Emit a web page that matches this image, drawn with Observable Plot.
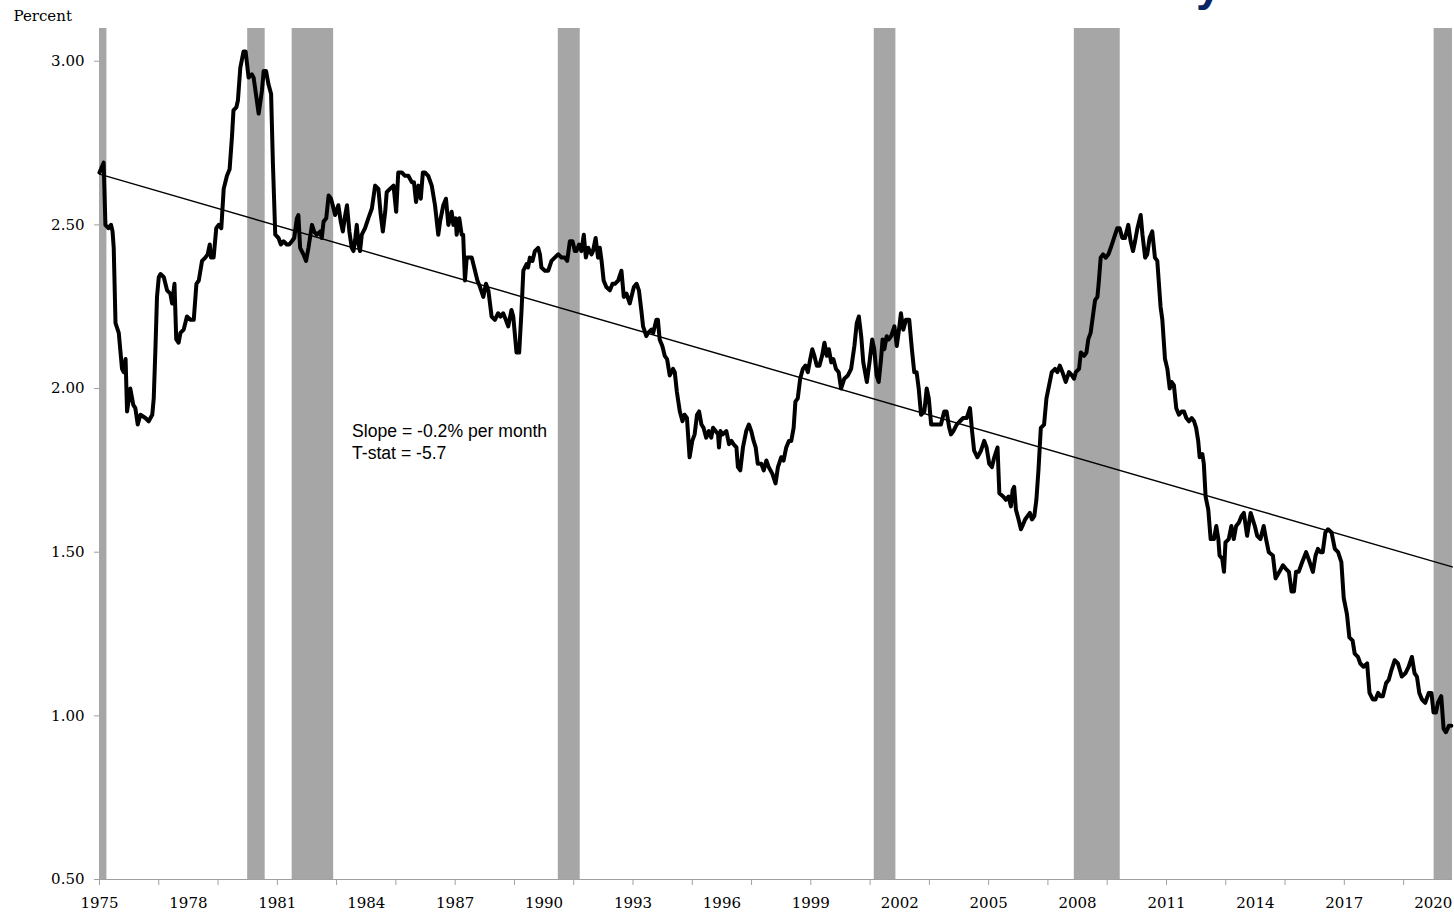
<!DOCTYPE html>
<html>
<head>
<meta charset="utf-8">
<script src="https://cdn.jsdelivr.net/npm/d3@7"></script>
<script src="https://cdn.jsdelivr.net/npm/@observablehq/plot@0.6"></script>
<style>
  html, body { margin: 0; padding: 0; background: #fff; overflow: hidden; }
  #wrap { position: relative; width: 1454px; height: 914px; }
  #title { position: absolute; left: 1196px; top: -39px; font: bold 46px/46px "Liberation Sans", Arial, sans-serif; color: #0a2466; white-space: nowrap; }
  #chart svg { display: block; }
</style>
</head>
<body>
<div id="wrap">
  <div id="chart"></div>
  <div id="title">y</div>
</div>
<script>
// Monthly series (decimal year, percent)
const rate = [
[1975.00,2.66],[1975.14,2.69],[1975.20,2.50],[1975.30,2.49],[1975.39,2.50],[1975.44,2.48],[1975.48,2.43],[1975.54,2.20],[1975.65,2.17],[1975.76,2.06],[1975.82,2.05],[1975.88,2.09],[1975.93,1.93],
[1976.04,2.00],[1976.14,1.95],[1976.21,1.94],[1976.29,1.89],[1976.38,1.92],[1976.55,1.91],[1976.66,1.90],[1976.78,1.92],[1976.83,1.97],[1976.89,2.13],[1976.94,2.28],
[1977.00,2.34],[1977.06,2.35],[1977.17,2.34],[1977.28,2.30],[1977.39,2.29],[1977.45,2.26],[1977.53,2.32],[1977.59,2.15],[1977.67,2.14],[1977.73,2.17],[1977.84,2.18],[1977.95,2.22],
[1978.07,2.21],[1978.18,2.21],[1978.27,2.32],[1978.35,2.33],[1978.46,2.39],[1978.57,2.40],[1978.65,2.41],[1978.72,2.44],[1978.76,2.40],[1978.85,2.40],[1978.94,2.49],
[1979.02,2.50],[1979.11,2.49],[1979.19,2.61],[1979.30,2.65],[1979.39,2.67],[1979.47,2.77],[1979.52,2.85],[1979.62,2.86],[1979.67,2.88],[1979.75,2.98],[1979.86,3.03],[1979.93,3.03],
[1980.03,2.95],[1980.14,2.96],[1980.20,2.95],[1980.37,2.84],[1980.48,2.91],[1980.54,2.97],[1980.62,2.97],[1980.70,2.93],[1980.79,2.90],[1980.85,2.69],[1980.93,2.47],
[1981.04,2.46],[1981.12,2.44],[1981.21,2.45],[1981.32,2.44],[1981.40,2.44],[1981.49,2.45],[1981.57,2.46],[1981.66,2.52],[1981.71,2.53],[1981.77,2.43],[1981.88,2.41],[1981.97,2.39],
[1982.05,2.43],[1982.17,2.50],[1982.24,2.48],[1982.33,2.47],[1982.45,2.48],[1982.50,2.46],[1982.56,2.51],[1982.65,2.52],[1982.73,2.59],[1982.81,2.58],[1982.87,2.56],[1982.95,2.53],
[1983.06,2.56],[1983.14,2.51],[1983.21,2.48],[1983.29,2.53],[1983.35,2.56],[1983.43,2.48],[1983.51,2.43],[1983.57,2.42],[1983.63,2.46],[1983.68,2.50],[1983.74,2.44],[1983.79,2.42],[1983.85,2.47],[1983.96,2.49],
[1984.07,2.52],[1984.19,2.55],[1984.30,2.62],[1984.41,2.61],[1984.49,2.53],[1984.56,2.48],[1984.64,2.54],[1984.69,2.60],[1984.80,2.61],[1984.92,2.62],
[1985.01,2.54],[1985.08,2.66],[1985.20,2.66],[1985.31,2.65],[1985.42,2.65],[1985.54,2.63],[1985.61,2.63],[1985.68,2.57],[1985.76,2.62],[1985.84,2.58],[1985.91,2.66],[1985.98,2.66],
[1986.09,2.65],[1986.21,2.62],[1986.32,2.56],[1986.43,2.47],[1986.49,2.51],[1986.60,2.56],[1986.69,2.58],[1986.77,2.50],[1986.83,2.52],[1986.88,2.54],[1986.94,2.50],
[1987.02,2.52],[1987.05,2.47],[1987.14,2.52],[1987.22,2.47],[1987.27,2.47],[1987.33,2.33],[1987.39,2.40],[1987.56,2.40],[1987.67,2.36],[1987.75,2.33],[1987.84,2.31],[1987.95,2.28],
[1988.04,2.32],[1988.12,2.30],[1988.23,2.22],[1988.34,2.21],[1988.45,2.23],[1988.53,2.22],[1988.62,2.23],[1988.71,2.21],[1988.79,2.19],[1988.90,2.24],[1988.96,2.22],
[1989.07,2.11],[1989.16,2.11],[1989.24,2.24],[1989.30,2.36],[1989.41,2.38],[1989.46,2.37],[1989.52,2.40],[1989.61,2.39],[1989.69,2.42],[1989.80,2.43],[1989.86,2.41],[1989.91,2.37],
[1990.03,2.36],[1990.14,2.36],[1990.25,2.39],[1990.36,2.40],[1990.48,2.41],[1990.59,2.40],[1990.70,2.40],[1990.78,2.39],[1990.87,2.45],[1990.96,2.45],
[1991.04,2.42],[1991.09,2.42],[1991.18,2.44],[1991.26,2.42],[1991.34,2.47],[1991.41,2.40],[1991.49,2.43],[1991.60,2.41],[1991.65,2.42],[1991.74,2.46],[1991.82,2.40],[1991.88,2.43],[1991.94,2.39],
[1992.01,2.33],[1992.10,2.31],[1992.22,2.30],[1992.31,2.32],[1992.39,2.32],[1992.50,2.33],[1992.61,2.36],[1992.69,2.28],[1992.78,2.29],[1992.89,2.26],
[1993.03,2.31],[1993.12,2.32],[1993.20,2.30],[1993.28,2.24],[1993.34,2.19],[1993.45,2.16],[1993.51,2.17],[1993.62,2.18],[1993.68,2.17],[1993.79,2.21],[1993.84,2.21],[1993.90,2.15],[1993.99,2.13],
[1994.07,2.10],[1994.15,2.09],[1994.24,2.04],[1994.35,2.06],[1994.41,2.05],[1994.48,1.99],[1994.58,1.93],[1994.67,1.90],[1994.74,1.92],[1994.82,1.91],[1994.91,1.79],
[1995.00,1.84],[1995.08,1.86],[1995.16,1.92],[1995.23,1.93],[1995.31,1.89],[1995.38,1.88],[1995.47,1.85],[1995.56,1.87],[1995.64,1.85],[1995.70,1.88],[1995.79,1.87],[1995.87,1.86],[1995.90,1.82],[1995.95,1.87],
[1996.03,1.86],[1996.15,1.87],[1996.24,1.83],[1996.32,1.84],[1996.39,1.83],[1996.49,1.82],[1996.54,1.76],[1996.62,1.75],[1996.71,1.82],[1996.82,1.87],[1996.91,1.89],[1996.99,1.87],
[1997.07,1.84],[1997.14,1.82],[1997.21,1.77],[1997.33,1.77],[1997.41,1.75],[1997.50,1.78],[1997.58,1.76],[1997.70,1.74],[1997.81,1.71],[1997.89,1.76],
[1998.00,1.79],[1998.08,1.78],[1998.17,1.82],[1998.26,1.84],[1998.34,1.84],[1998.42,1.88],[1998.48,1.96],[1998.56,1.97],[1998.64,2.03],[1998.73,2.06],[1998.82,2.07],[1998.90,2.05],[1998.98,2.09],
[1999.05,2.12],[1999.12,2.10],[1999.20,2.07],[1999.29,2.07],[1999.38,2.10],[1999.46,2.14],[1999.54,2.10],[1999.61,2.12],[1999.69,2.08],[1999.76,2.09],[1999.85,2.06],[1999.94,2.05],
[2000.02,2.00],[2000.13,2.03],[2000.25,2.04],[2000.36,2.06],[2000.47,2.13],[2000.55,2.20],[2000.62,2.22],[2000.70,2.16],[2000.77,2.08],[2000.89,2.02],[2000.98,2.08],
[2001.07,2.15],[2001.14,2.12],[2001.22,2.04],[2001.29,2.02],[2001.37,2.09],[2001.42,2.15],[2001.48,2.12],[2001.56,2.16],[2001.63,2.15],[2001.71,2.16],[2001.82,2.19],[2001.90,2.13],[2001.96,2.17],
[2002.04,2.23],[2002.12,2.18],[2002.21,2.21],[2002.32,2.21],[2002.41,2.12],[2002.49,2.05],[2002.57,2.05],[2002.64,2.00],[2002.72,1.92],[2002.83,1.93],[2002.91,2.00],[2002.98,1.97],
[2003.06,1.89],[2003.23,1.89],[2003.39,1.89],[2003.50,1.93],[2003.58,1.93],[2003.67,1.88],[2003.73,1.86],[2003.81,1.87],[2003.92,1.89],
[2004.03,1.90],[2004.14,1.91],[2004.26,1.91],[2004.37,1.94],[2004.44,1.87],[2004.51,1.81],[2004.62,1.79],[2004.74,1.81],[2004.85,1.84],[2004.93,1.82],
[2005.02,1.77],[2005.11,1.76],[2005.19,1.79],[2005.30,1.82],[2005.36,1.68],[2005.49,1.67],[2005.58,1.66],[2005.67,1.67],[2005.75,1.64],[2005.81,1.69],[2005.86,1.70],[2005.92,1.63],
[2006.01,1.60],[2006.09,1.57],[2006.14,1.58],[2006.23,1.60],[2006.31,1.61],[2006.39,1.62],[2006.46,1.60],[2006.54,1.61],[2006.61,1.66],[2006.68,1.75],[2006.76,1.88],[2006.87,1.89],[2006.95,1.97],
[2007.04,2.01],[2007.13,2.05],[2007.24,2.06],[2007.32,2.05],[2007.40,2.07],[2007.49,2.05],[2007.60,2.02],[2007.71,2.05],[2007.81,2.04],[2007.88,2.03],[2007.94,2.05],
[2008.05,2.06],[2008.11,2.11],[2008.22,2.10],[2008.30,2.11],[2008.36,2.15],[2008.44,2.17],[2008.53,2.23],[2008.59,2.27],[2008.67,2.28],[2008.72,2.33],[2008.78,2.40],[2008.86,2.41],[2008.95,2.40],
[2009.04,2.41],[2009.12,2.43],[2009.23,2.46],[2009.34,2.49],[2009.42,2.49],[2009.51,2.46],[2009.60,2.46],[2009.71,2.50],[2009.79,2.45],[2009.87,2.42],[2009.94,2.45],
[2010.02,2.49],[2010.13,2.53],[2010.19,2.47],[2010.28,2.40],[2010.35,2.41],[2010.43,2.46],[2010.52,2.48],[2010.61,2.40],[2010.69,2.39],[2010.80,2.25],[2010.86,2.21],[2010.95,2.09],
[2011.03,2.06],[2011.11,2.00],[2011.17,2.02],[2011.25,2.01],[2011.33,1.94],[2011.42,1.92],[2011.51,1.93],[2011.59,1.93],[2011.67,1.91],[2011.76,1.90],[2011.85,1.91],[2011.93,1.90],
[2012.00,1.88],[2012.07,1.84],[2012.12,1.79],[2012.21,1.80],[2012.26,1.77],[2012.32,1.67],[2012.41,1.63],[2012.49,1.54],[2012.60,1.54],[2012.68,1.58],[2012.75,1.54],[2012.79,1.49],[2012.88,1.48],[2012.94,1.44],[2012.99,1.53],
[2013.10,1.54],[2013.19,1.58],[2013.27,1.54],[2013.35,1.58],[2013.44,1.59],[2013.53,1.61],[2013.61,1.62],[2013.72,1.55],[2013.84,1.62],[2013.98,1.58],
[2014.06,1.55],[2014.17,1.54],[2014.28,1.58],[2014.36,1.54],[2014.45,1.50],[2014.59,1.49],[2014.68,1.42],[2014.81,1.44],[2014.93,1.46],
[2015.02,1.45],[2015.13,1.44],[2015.22,1.38],[2015.30,1.38],[2015.37,1.44],[2015.46,1.44],[2015.58,1.47],[2015.71,1.50],[2015.83,1.47],[2015.94,1.44],
[2016.03,1.49],[2016.11,1.51],[2016.20,1.50],[2016.27,1.50],[2016.36,1.56],[2016.45,1.57],[2016.57,1.56],[2016.68,1.51],[2016.79,1.50],[2016.90,1.47],[2016.98,1.36],
[2017.09,1.31],[2017.17,1.24],[2017.28,1.23],[2017.35,1.19],[2017.46,1.18],[2017.54,1.16],[2017.65,1.15],[2017.77,1.16],[2017.85,1.07],[2017.96,1.05],
[2018.05,1.05],[2018.14,1.07],[2018.22,1.06],[2018.30,1.06],[2018.41,1.10],[2018.50,1.11],[2018.59,1.14],[2018.70,1.17],[2018.81,1.16],[2018.94,1.12],
[2019.06,1.13],[2019.17,1.15],[2019.28,1.18],[2019.37,1.13],[2019.45,1.12],[2019.53,1.07],[2019.62,1.05],[2019.73,1.04],[2019.85,1.07],[2019.94,1.07],
[2020.01,1.01],[2020.09,1.01],[2020.16,1.04],[2020.27,1.06],[2020.35,0.96],[2020.43,0.95],[2020.53,0.97],[2020.61,0.97]
];

// Fitted linear trend (start, end)
const trend = [[1975.00, 2.655], [2020.64, 1.455]];

// NBER recessions (start, end) as decimal years
const recessions = [
  [1975.00, 1975.25],
  [1980.00, 1980.59],
  [1981.50, 1982.90],
  [1990.48, 1991.22],
  [2001.14, 2001.87],
  [2007.89, 2009.44],
  [2020.03, 2020.65]
];

// Axis ticks and labels
const xTickYears = d3.range(1975, 2020, 2);
const xLabelYears = [1975, 1978, 1981, 1984, 1987, 1990, 1993, 1996, 1999, 2002, 2005, 2008, 2011, 2014, 2017, 2020];
const yTicks = [0.5, 1.0, 1.5, 2.0, 2.5, 3.0];
const yUnit = ["Percent"];

// Annotation
const notes = [{year: 1983.52, value: 1.901, text: "Slope = -0.2% per month\nT-stat = -5.7"}];

const series = rate.map(([year, value]) => ({year, value}));
const trendLine = trend.map(([year, value]) => ({year, value}));
const bands = recessions.map(([start, end]) => ({start, end}));

const axisGray = "#a0a0a0";

const chart = Plot.plot({
  width: 1454,
  height: 914,
  marginLeft: 99,
  marginRight: 2,
  marginTop: 28,
  marginBottom: 35,
  style: {fontFamily: "'DejaVu Serif', serif", fontSize: "15px", background: "white", color: "black"},
  x: {type: "linear", domain: [1975, 2020.65], label: null},
  y: {domain: [0.5, 3.1], label: null},
  marks: [
    Plot.rect(bands, {x1: "start", x2: "end", fill: "#a6a6a6"}),
    Plot.ruleY([0.5], {stroke: axisGray, strokeWidth: 1}),
    Plot.axisY({ticks: yTicks, tickSize: 5, tickPadding: 10, tickFormat: d3.format(".2f"), stroke: axisGray, fill: "black", label: null, fontSize: 15}),
    Plot.axisX({ticks: xTickYears, tickSize: 6, tickFormat: () => "", stroke: axisGray, label: null}),
    Plot.axisX({ticks: xLabelYears, tickSize: 0, tickPadding: 18, tickFormat: d3.format("d"), fill: "black", label: null, fontSize: 15}),
    Plot.line(trendLine, {x: "year", y: "value", stroke: "black", strokeWidth: 1.4}),
    Plot.line(series, {x: "year", y: "value", stroke: "black", strokeWidth: 4, strokeLinejoin: "round"}),
    Plot.text(notes, {x: "year", y: "value", text: "text", textAnchor: "start", lineAnchor: "top", lineHeight: 1.27, fontSize: 17.6, fontFamily: "'Liberation Sans', Arial, sans-serif", fill: "black"}),
    Plot.text(yUnit, {text: d => d, frameAnchor: "top-left", dx: -86, dy: -12, textAnchor: "start", lineAnchor: "middle", fontSize: 15, fill: "black"})
  ]
});

document.getElementById("chart").appendChild(chart);
</script>
</body>
</html>
